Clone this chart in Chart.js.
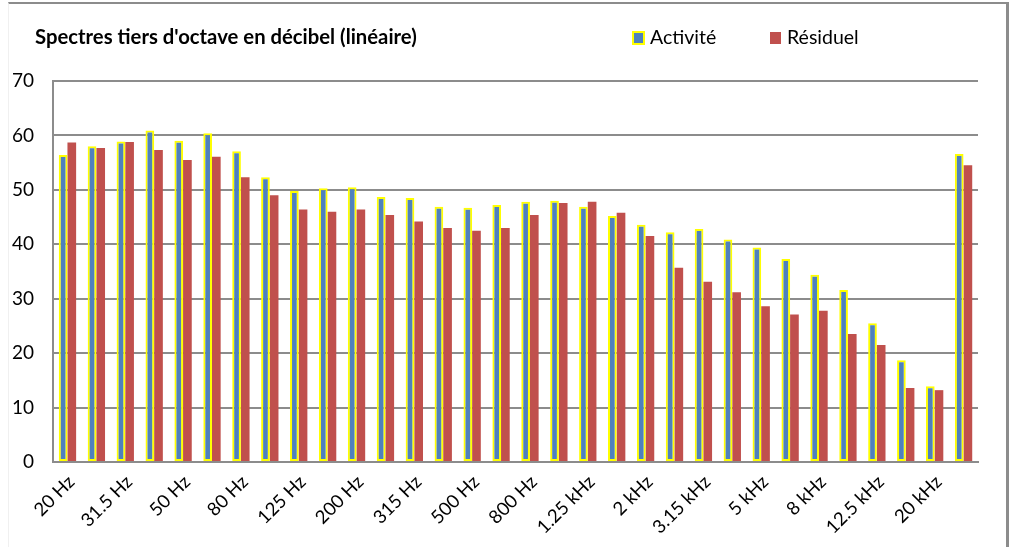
<!DOCTYPE html>
<html>
<head>
<meta charset="utf-8">
<script src="https://cdn.jsdelivr.net/npm/chart.js@4.4.1/dist/chart.umd.min.js"></script>
<style>
  html, body { margin: 0; padding: 0; background: #fff; overflow: hidden; }
  #wrap { position: relative; width: 1019px; height: 547px; }
  #frame {
    position: absolute; left: 8px; top: 2px; width: 997px; height: 600px;
    border-top: 2px solid #8c8c8c; border-right: 3px solid #8c8c8c; border-left: 1px solid #f0f0f0;
    pointer-events: none;
  }
  canvas { position: absolute; left: 0; top: 0; }
</style>
</head>
<body>
<div id="wrap">
  <canvas id="chart" width="1019" height="547"></canvas>
  <div id="frame"></div>
</div>
<script>
const title = "Spectres tiers d'octave en décibel (linéaire)";

const bands = [
  "20 Hz", "25 Hz", "31.5 Hz", "40 Hz", "50 Hz", "63 Hz", "80 Hz", "100 Hz",
  "125 Hz", "160 Hz", "200 Hz", "250 Hz", "315 Hz", "400 Hz", "500 Hz", "630 Hz",
  "800 Hz", "1 kHz", "1.25 kHz", "1.6 kHz", "2 kHz", "2.5 kHz", "3.15 kHz", "4 kHz",
  "5 kHz", "6.3 kHz", "8 kHz", "10 kHz", "12.5 kHz", "16 kHz", "20 kHz", "Global"
];

const activite = [
  56.4, 58.0, 58.9, 60.9, 59.0, 60.4, 57.1, 52.3,
  49.8, 50.3, 50.5, 48.7, 48.5, 46.9, 46.7, 47.2,
  47.8, 48.0, 46.9, 45.2, 43.6, 42.2, 42.8, 40.9,
  39.4, 37.3, 34.4, 31.6, 25.5, 18.7, 13.9, 56.6
];

const residuel = [
  58.7, 57.7, 58.8, 57.3, 55.5, 56.1, 52.3, 49.0,
  46.4, 46.0, 46.4, 45.4, 44.2, 43.0, 42.5, 43.0,
  45.4, 47.6, 47.8, 45.8, 41.5, 35.7, 33.1, 31.2,
  28.6, 27.1, 27.8, 23.5, 21.5, 13.6, 13.2, 54.5
];

const yTicks = [0, 10, 20, 30, 40, 50, 60, 70];

const FONT = "Lato, 'Open Sans', sans-serif";

// title and legend drawn on the canvas, on one line above the plot
const headerPlugin = {
  id: 'header',
  afterDraw(chart) {
    const ctx = chart.ctx;
    ctx.save();
    ctx.fillStyle = '#000';
    ctx.textBaseline = 'middle';
    ctx.font = "bold 20.3px " + FONT;
    ctx.fillText(title, 35, 37);

    const items = [
      { x: 633, ds: chart.data.datasets[0] },
      { x: 770, ds: chart.data.datasets[1] }
    ];
    ctx.font = "19.5px " + FONT;
    items.forEach(it => {
      ctx.fillStyle = it.ds.backgroundColor;
      ctx.fillRect(it.x, 32, 11, 12);
      if (it.ds.borderWidth) {
        ctx.strokeStyle = it.ds.borderColor;
        ctx.lineWidth = 2;
        ctx.strokeRect(it.x, 32, 11, 12);
      }
      ctx.fillStyle = '#000';
      ctx.fillText(it.ds.label, it.x + 17, 38);
    });
    ctx.restore();
  }
};

new Chart(document.getElementById('chart'), {
  type: 'bar',
  data: {
    labels: bands,
    datasets: [
      {
        label: 'Activité',
        data: activite,
        backgroundColor: '#4f81bd',
        borderColor: '#ffff00',
        borderWidth: 2,
        borderSkipped: false,
        categoryPercentage: 0.6,
        barPercentage: 1.0
      },
      {
        label: 'Résiduel',
        data: residuel,
        backgroundColor: '#c0504d',
        borderWidth: 0,
        categoryPercentage: 0.6,
        barPercentage: 1.0
      }
    ]
  },
  options: {
    responsive: false,
    animation: false,
    devicePixelRatio: 1,
    layout: { padding: { top: 81, right: 41, left: 0, bottom: 0 } },
    plugins: {
      legend: { display: false },
      title: { display: false },
      tooltip: { enabled: false }
    },
    scales: {
      x: {
        grid: { display: false, drawTicks: false },
        border: { color: '#8c8c8c', width: 2 },
        ticks: {
          autoSkip: false,
          maxRotation: 45,
          minRotation: 45,
          padding: 9,
          labelOffset: 4,
          color: '#000',
          font: { family: FONT, size: 18.5 },
          callback: (v, i) => (i % 2 === 0 ? bands[i] : '')
        },
        afterFit: s => { s.height = 85; }
      },
      y: {
        min: 0,
        max: 70,
        afterBuildTicks: s => { s.ticks = yTicks.map(v => ({ value: v })); },
        grid: { color: '#8c8c8c', lineWidth: 2, drawTicks: false },
        border: { color: '#8c8c8c', width: 2 },
        ticks: {
          padding: 19,
          color: '#000',
          font: { family: FONT, size: 19 }
        },
        afterFit: s => { s.width = 53; }
      }
    }
  },
  plugins: [headerPlugin]
});
</script>
</body>
</html>
